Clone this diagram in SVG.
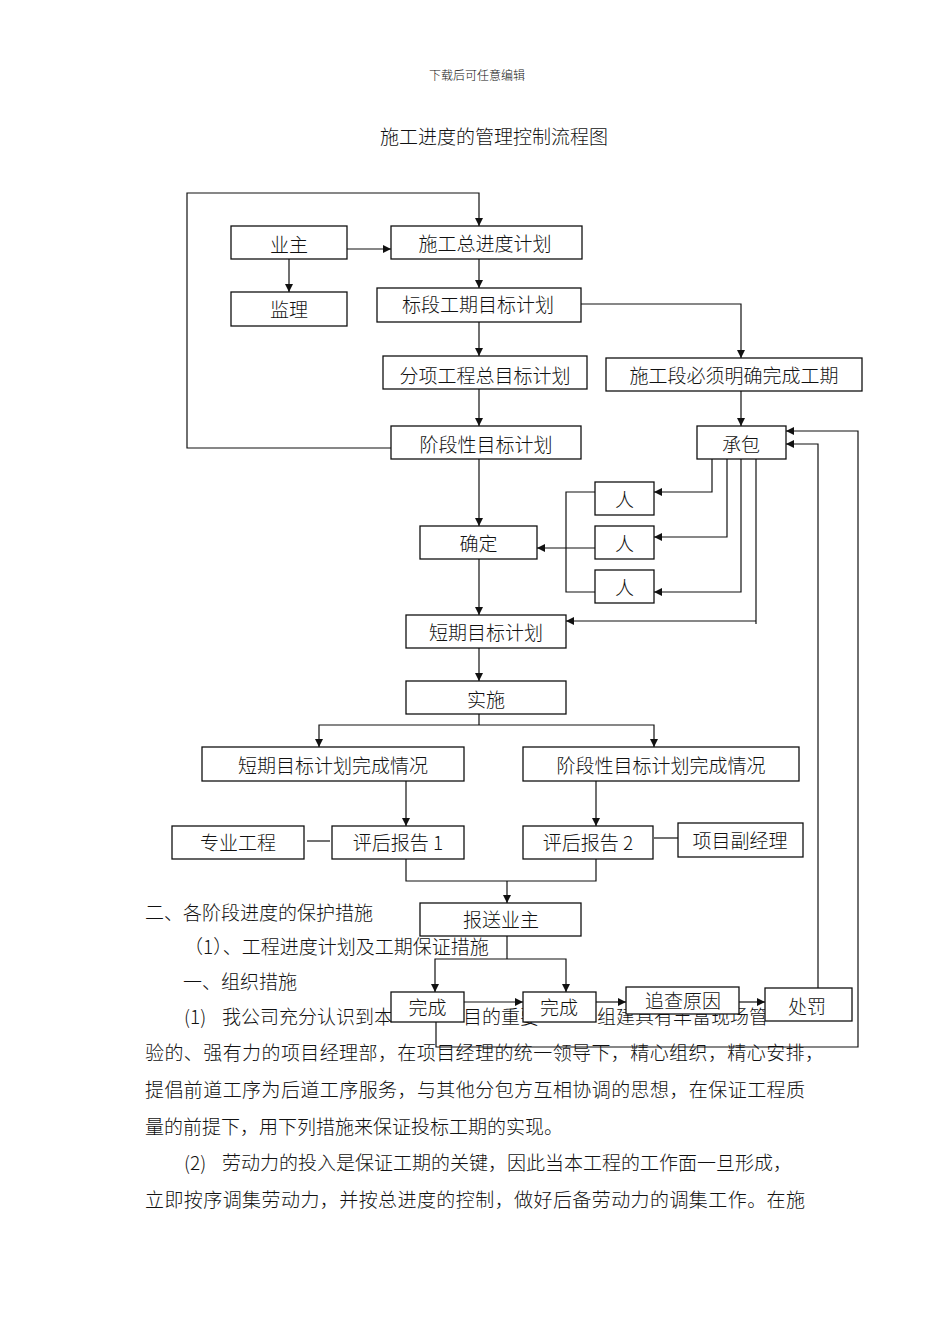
<svg xmlns="http://www.w3.org/2000/svg" width="950" height="1344" viewBox="0 0 950 1344">
<style>
.t{font-family:"Noto Sans CJK SC","Noto Sans CJK JP",sans-serif;font-size:19px;font-weight:300;fill:#111}
.lbl{font-family:"Noto Sans CJK SC","Noto Sans CJK JP",sans-serif;font-size:19px;font-weight:300;fill:#111;text-anchor:middle}
.box{fill:#fff;stroke:#111;stroke-width:1.3}
.c{fill:none;stroke:#111;stroke-width:1.2}
.a{marker-end:url(#arr)}
</style>
<defs>
<marker id="arr" viewBox="0 0 10 10" refX="10" refY="5" markerWidth="8" markerHeight="8" markerUnits="userSpaceOnUse" orient="auto"><path d="M0,0 L10,5 L0,10 z" fill="#111"/></marker>
</defs>
<rect width="950" height="1344" fill="#fff"/>
<text class="t" x="477" y="80" style="font-size:12px;text-anchor:middle">下载后可任意编辑</text>
<text class="t" x="494" y="144" style="text-anchor:middle">施工进度的管理控制流程图</text>

<g id="body-text">
<text class="t" x="145" y="920">二、各阶段进度的保护措施</text>
<text class="t" x="184" y="954">（1）、工程进度计划及工期保证措施</text>
<text class="t" x="183" y="989">一、组织措施</text>
<text class="t" y="1024"><tspan x="184">(1)</tspan><tspan x="222">我公司充分认识到本</tspan><tspan x="463">目的重要</tspan><tspan x="597">组建具有丰富现场管</tspan></text>
<text class="t" x="145" y="1060" textLength="679" lengthAdjust="spacing">验的、强有力的项目经理部，在项目经理的统一领导下，精心组织，精心安排，</text>
<text class="t" x="145" y="1097" textLength="660" lengthAdjust="spacing">提倡前道工序为后道工序服务，与其他分包方互相协调的思想，在保证工程质</text>
<text class="t" x="145" y="1134">量的前提下，用下列措施来保证投标工期的实现。</text>
<text class="t" y="1170"><tspan x="184">(2)</tspan><tspan x="222">劳动力的投入是保证工期的关键，因此当本工程的工作面一旦形成，</tspan></text>
<text class="t" x="145" y="1207" textLength="660" lengthAdjust="spacing">立即按序调集劳动力，并按总进度的控制，做好后备劳动力的调集工作。在施</text>
</g>

<g id="connectors">
<path class="c a" d="M391,448 H187 V193 H479 V226"/>
<path class="c a" d="M347,249 H391"/>
<path class="c a" d="M289,259 V292"/>
<path class="c a" d="M479,259 V288"/>
<path class="c a" d="M479,322 V356"/>
<path class="c a" d="M479,389 V426"/>
<path class="c a" d="M479,459 V526"/>
<path class="c a" d="M581,304 H741 V358"/>
<path class="c a" d="M741,391 V426"/>
<path class="c a" d="M712,459 V492 H654"/>
<path class="c a" d="M727,459 V537 H654"/>
<path class="c a" d="M741,459 V592 H654"/>
<path class="c" d="M756,459 V624"/>
<path class="c a" d="M756,621 H566"/>
<path class="c" d="M595,492 H566 V592 H595"/>
<path class="c a" d="M595,548 H537"/>
<path class="c a" d="M479,559 V615"/>
<path class="c a" d="M479,648 V681"/>
<path class="c" d="M479,714 V725"/>
<path class="c a" d="M479,725 H319 V747"/>
<path class="c a" d="M479,725 H654 V747"/>
<path class="c a" d="M406,781 V826"/>
<path class="c a" d="M596,781 V826"/>
<path class="c" d="M307,841 H330"/>
<path class="c" d="M654,838 H678"/>
<path class="c" d="M406,859 V881 H596 V859"/>
<path class="c a" d="M507,881 V903"/>
<path class="c" d="M507,936 V959"/>
<path class="c a" d="M507,959 H435 V992"/>
<path class="c a" d="M507,959 H566 V992"/>
<path class="c a" d="M464,1002 H523"/>
<path class="c a" d="M596,1002 H626"/>
<path class="c a" d="M739,1002 H765"/>
<path class="c a" d="M818,988 V444 H786"/>
<path class="c a" d="M436,1022 V1047 H858 V431 H786"/>
</g>

<g id="n-yezhu"><rect class="box" x="231" y="226" width="116" height="33"/><text class="lbl" x="289" y="252">业主</text></g>
<g id="n-jianli"><rect class="box" x="231" y="292" width="116" height="34"/><text class="lbl" x="289" y="317">监理</text></g>
<g id="n-zongjindu"><rect class="box" x="391" y="226" width="191" height="33"/><text class="lbl" x="485" y="251">施工总进度计划</text></g>
<g id="n-biaoduan"><rect class="box" x="377" y="288" width="204" height="34"/><text class="lbl" x="478" y="312">标段工期目标计划</text></g>
<g id="n-fenxiang"><rect class="box" x="383" y="356" width="204" height="33"/><text class="lbl" x="485" y="383">分项工程总目标计划</text></g>
<g id="n-jieduan"><rect class="box" x="391" y="426" width="190" height="33"/><text class="lbl" x="486" y="452">阶段性目标计划</text></g>
<g id="n-shigongduan"><rect class="box" x="606" y="358" width="256" height="33"/><text class="lbl" x="734" y="383">施工段必须明确完成工期</text></g>
<g id="n-chengbao"><rect class="box" x="697" y="426" width="89" height="33"/><text class="lbl" x="741" y="452">承包</text></g>
<g id="n-ren1"><rect class="box" x="595" y="482" width="59" height="33"/><text class="lbl" x="624.5" y="507">人</text></g>
<g id="n-ren2"><rect class="box" x="595" y="526" width="59" height="33"/><text class="lbl" x="624.5" y="551">人</text></g>
<g id="n-ren3"><rect class="box" x="595" y="570" width="59" height="33"/><text class="lbl" x="624.5" y="595">人</text></g>
<g id="n-queding"><rect class="box" x="420" y="526" width="117" height="33"/><text class="lbl" x="478.5" y="551">确定</text></g>
<g id="n-duanqi"><rect class="box" x="406" y="615" width="160" height="33"/><text class="lbl" x="486" y="640">短期目标计划</text></g>
<g id="n-shishi"><rect class="box" x="406" y="681" width="160" height="33"/><text class="lbl" x="486" y="707">实施</text></g>
<g id="n-duanqi-wc"><rect class="box" x="202" y="747" width="262" height="34"/><text class="lbl" x="333" y="773">短期目标计划完成情况</text></g>
<g id="n-jieduan-wc"><rect class="box" x="523" y="747" width="276" height="34"/><text class="lbl" x="661" y="773">阶段性目标计划完成情况</text></g>
<g id="n-zhuanye"><rect class="box" x="172" y="826" width="132" height="33"/><text class="lbl" x="238" y="850">专业工程</text></g>
<g id="n-pinghou1"><rect class="box" x="332" y="826" width="132" height="33"/><text class="lbl" x="398" y="850">评后报告 1</text></g>
<g id="n-pinghou2"><rect class="box" x="523" y="826" width="130" height="33"/><text class="lbl" x="588" y="850">评后报告 2</text></g>
<g id="n-fujingli"><rect class="box" x="678" y="823" width="125" height="34"/><text class="lbl" x="740" y="848">项目副经理</text></g>
<g id="n-baosong"><rect class="box" x="420" y="903" width="161" height="33"/><text class="lbl" x="501" y="927">报送业主</text></g>
<g id="n-wancheng1"><rect class="box" x="391" y="992" width="73" height="30"/><text class="lbl" x="427.5" y="1015">完成</text></g>
<g id="n-wancheng2"><rect class="box" x="523" y="992" width="73" height="30"/><text class="lbl" x="559" y="1015">完成</text></g>
<g id="n-zhuicha"><rect class="box" x="626" y="987" width="113" height="27"/><text class="lbl" x="683" y="1008">追查原因</text></g>
<g id="n-chufa"><rect class="box" x="765" y="988" width="87" height="33"/><text class="lbl" x="807" y="1014">处罚</text></g>
</svg>
